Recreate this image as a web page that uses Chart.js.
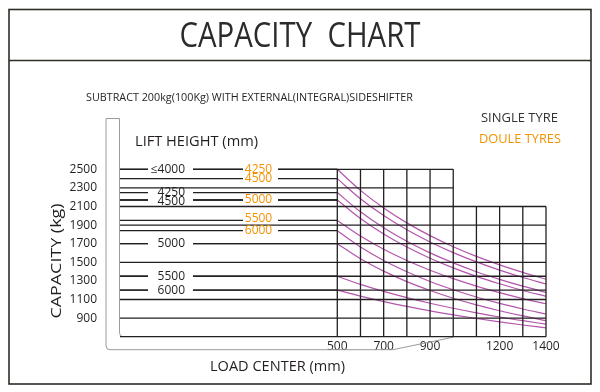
<!DOCTYPE html>
<html>
<head>
<meta charset="utf-8">
<title>Capacity chart</title>
<script src="https://cdn.jsdelivr.net/npm/chart.js@4.4.1/dist/chart.umd.min.js"></script>
<style>
  html, body { margin: 0; padding: 0; background: #fff; }
</style>
</head>
<body>
<canvas id="capChart" width="600" height="392"></canvas>
<script>
// load centres (mm) on the bottom axis
const loadCenters = [500, 600, 700, 800, 900, 1000, 1100, 1200, 1300, 1400];
const xTickLabels = [500, 700, 900, 1200, 1400];
const yTickLabels = [2500, 2300, 2100, 1900, 1700, 1500, 1300, 1100, 900];

// lift heights with their rated capacity (kg) at 500mm
const singleHeights = ["\u22644000", "4250", "4500", "5000", "5500", "6000"];
const singleCaps = [2500, 2250, 2170, 1700, 1350, 1200];
const doubleHeights = ["4250", "4500", "5000", "5500", "6000"];
const doubleCaps = [2500, 2400, 2170, 1950, 1840];

// derating curves, kg at each load centre
const curve2500 = [2500, 2273, 2084, 1924, 1787, 1668, 1564, 1472, 1391, 1318];
const curve2400 = [2400, 2183, 2002, 1849, 1718, 1604, 1504, 1416, 1337, 1267];
const curve2250 = [2250, 2043, 1871, 1726, 1601, 1494, 1399, 1317, 1243, 1177];
const curve2170 = [2170, 1970, 1804, 1664, 1544, 1440, 1349, 1269, 1197, 1134];
const curve1950 = [1950, 1782, 1640, 1519, 1415, 1324, 1244, 1174, 1110, 1054];
const curve1840 = [1840, 1664, 1519, 1398, 1294, 1205, 1127, 1058, 998, 944];
const curve1700 = [1700, 1538, 1405, 1292, 1197, 1114, 1042, 979, 923, 873];
const curve1350 = [1350, 1263, 1187, 1120, 1060, 1006, 957, 912, 872, 835];
const curve1200 = [1200, 1136, 1078, 1026, 978, 935, 896, 860, 826, 795];
const curves = [curve2500, curve2400, curve2250, curve2170, curve1950, curve1840, curve1700, curve1350, curve1200];

// grid rows (kg) and how far right they run (mm), grid columns and their tops (kg)
const rowCaps = [2500, 2300, 2100, 1900, 1700, 1500, 1350, 1200, 1100, 900, 700];
const rowEnds = [1000, 1000, 1400, 1400, 1400, 1400, 1400, 1400, 1400, 1400, 1400];
const colTops = [2500, 2500, 2500, 2500, 2500, 2500, 2100, 2100, 2100, 2100];

const xMin = -437;
const INK = "#231f20";
const ORANGE = "#f39200";
const PURPLE = "#b455ad";
const FONT = '"Open Sans", Lato, sans-serif';

const seg = (pts, color, width) => ({
  data: pts, showLine: true, borderColor: color, borderWidth: width,
  pointRadius: 0, fill: false, clip: false, tension: 0
});

const datasets = [];
// horizontal rows
rowCaps.forEach((c, i) => datasets.push(seg([{x: xMin, y: c}, {x: rowEnds[i], y: c}], INK, 1.3)));
// short lift height lines, left of 500
singleCaps.forEach(c => datasets.push(seg([{x: xMin, y: c}, {x: 500, y: c}], INK, 1.3)));
doubleCaps.forEach(c => datasets.push(seg([{x: xMin, y: c}, {x: 500, y: c}], INK, 1.3)));
// columns
loadCenters.forEach((lc, i) => datasets.push(seg([{x: lc, y: 700}, {x: lc, y: colTops[i]}], INK, 1.3)));
// derating curves
curves.forEach(cv => {
  const d = seg(cv.map((v, i) => ({x: loadCenters[i], y: v})), PURPLE, 1.2);
  d.tension = 0.4;
  d.cubicInterpolationMode = "monotone";
  datasets.push(d);
});

function fitText(ctx, text, x, y, width, font, color, align) {
  ctx.save();
  ctx.font = font;
  ctx.fillStyle = color;
  ctx.textAlign = align || "left";
  ctx.textBaseline = "alphabetic";
  const w = ctx.measureText(text).width;
  ctx.translate(x, y);
  ctx.scale(width / w, 1);
  ctx.fillText(text, 0, 0);
  ctx.restore();
}

const decor = {
  id: "decor",
  beforeDraw(chart) {
    const ctx = chart.ctx;
    ctx.save();
    ctx.fillStyle = "#fff";
    ctx.fillRect(0, 0, chart.width, chart.height);
    ctx.restore();
  },
  beforeDatasetsDraw(chart) {
    // grey mast outline behind the chart
    const ctx = chart.ctx, a = chart.chartArea, xs = chart.scales.x;
    ctx.save();
    ctx.strokeStyle = "#9a9a9a";
    ctx.lineWidth = 1;
    ctx.beginPath();
    ctx.moveTo(a.left - 0.5, a.bottom - 4);
    ctx.lineTo(a.left - 0.5, 118.5);
    ctx.lineTo(a.left - 14, 118.5);
    ctx.lineTo(a.left - 14, a.bottom + 9);
    ctx.quadraticCurveTo(a.left - 14, a.bottom + 13, a.left - 10, a.bottom + 13);
    ctx.lineTo(xs.getPixelForValue(740), a.bottom + 13);
    ctx.lineTo(xs.getPixelForValue(1000), a.bottom + 0.5);
    ctx.stroke();
    ctx.beginPath();
    ctx.moveTo(a.left - 0.5, a.bottom - 4);
    ctx.quadraticCurveTo(a.left - 0.5, a.bottom, a.left + 3, a.bottom);
    ctx.stroke();
    ctx.restore();
  },
  afterDatasetsDraw(chart) {
    const ctx = chart.ctx, ys = chart.scales.y;
    ctx.save();
    ctx.font = "12px " + FONT;
    ctx.textBaseline = "middle";
    // single tyre labels, black
    singleHeights.forEach((h, i) => {
      const y = ys.getPixelForValue(singleCaps[i]);
      ctx.fillStyle = "#fff";
      ctx.fillRect(148, y - 2.5, 45, 5);
      ctx.fillStyle = INK;
      ctx.textAlign = "right";
      ctx.fillText(h, 185, y + (i === 2 ? 2 : 0));
    });
    // double tyre labels, orange
    doubleHeights.forEach((h, i) => {
      const y = ys.getPixelForValue(doubleCaps[i]);
      ctx.fillStyle = "#fff";
      ctx.fillRect(243, y - 2.5, 35, 5);
      ctx.fillStyle = ORANGE;
      ctx.textAlign = "center";
      ctx.fillText(h, 258.5, y + (i === 3 ? -2 : 0));
    });
    ctx.restore();
  },
  afterDraw(chart) {
    const ctx = chart.ctx;
    ctx.save();
    // frame and header band
    ctx.strokeStyle = "#2e2e26";
    ctx.lineWidth = 1.6;
    ctx.strokeRect(9, 9.5, 582, 374.5);
    ctx.beginPath();
    ctx.moveTo(9, 60.5);
    ctx.lineTo(591, 60.5);
    ctx.stroke();
    ctx.restore();

    fitText(ctx, "CAPACITY  CHART", 300, 47, 241, "35px " + FONT, "#2b2b2b", "center");
    fitText(ctx, "SUBTRACT 200kg(100Kg) WITH EXTERNAL(INTEGRAL)SIDESHIFTER", 86, 101, 327, "11px " + FONT, INK);
    fitText(ctx, "LIFT HEIGHT (mm)", 135, 146, 123, "14px " + FONT, INK);
    fitText(ctx, "SINGLE TYRE", 481, 122, 77, "12px " + FONT, "#333");
    fitText(ctx, "DOULE TYRES", 479, 143, 82, "12px " + FONT, ORANGE);
    fitText(ctx, "LOAD CENTER (mm)", 210, 371, 135, "14px " + FONT, INK);

    ctx.save();
    ctx.translate(61, 261);
    ctx.rotate(-Math.PI / 2);
    fitText(ctx, "CAPACITY (kg)", 0, 0, 115, "14px " + FONT, INK, "center");
    ctx.restore();
  }
};

new Chart(document.getElementById("capChart"), {
  type: "scatter",
  data: { datasets: datasets },
  options: {
    responsive: false,
    animation: false,
    layout: { padding: { top: 169.3, right: 54, left: 0, bottom: 0 } },
    plugins: { legend: { display: false }, tooltip: { enabled: false } },
    scales: {
      x: {
        type: "linear", min: xMin, max: 1400,
        grid: { display: false, drawTicks: false }, border: { display: false },
        afterBuildTicks: s => { s.ticks = xTickLabels.map(v => ({ value: v })); },
        afterFit: s => { s.height = 55.3; },
        ticks: {
          padding: 3, autoSkip: false, maxRotation: 0, color: INK,
          font: { family: FONT, size: 12 },
          callback: v => String(v)
        }
      },
      y: {
        type: "linear", min: 700, max: 2500,
        grid: { display: false, drawTicks: false }, border: { display: false },
        afterBuildTicks: s => { s.ticks = yTickLabels.map(v => ({ value: v })); },
        afterFit: s => { s.width = 120; },
        ticks: {
          padding: 23, autoSkip: false, color: INK,
          font: { family: FONT, size: 12 },
          callback: v => String(v)
        }
      }
    }
  },
  plugins: [decor]
});
</script>
</body>
</html>
